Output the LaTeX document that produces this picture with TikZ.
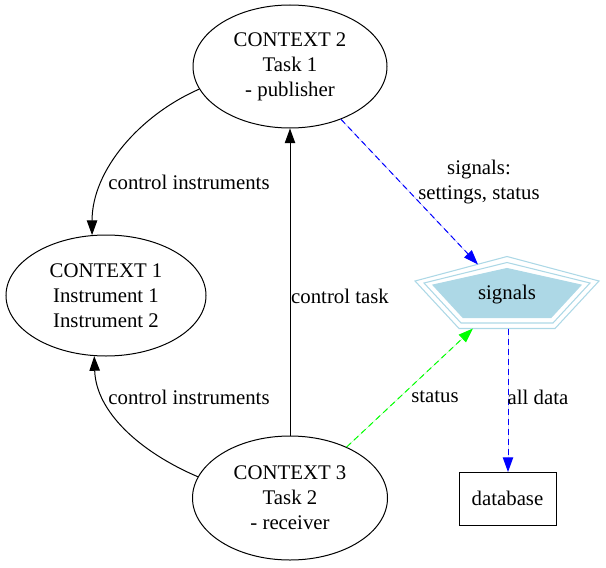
\documentclass[tikz,border=0pt]{standalone}
\usepackage{fontspec}
\setmainfont{Liberation Serif}
\usetikzlibrary{shapes.geometric,arrows.meta}
\definecolor{gvblue}{RGB}{0,0,255}
\definecolor{gvgreen}{RGB}{0,255,0}
\definecolor{gvlightblue}{RGB}{173,216,230}
\tikzset{
  ctx/.style={draw, ellipse, line width=0.75pt, inner sep=0pt, align=center},
  lbl/.style={align=center, inner sep=0pt},
  arr/.style={line width=0.75pt, -{Triangle[length=11pt,width=7.8pt]}},
  bluearr/.style={arr, draw=gvblue, fill=gvblue, dash pattern=on 4.5pt off 3pt},
  greenarr/.style={arr, draw=gvgreen, fill=gvgreen, dash pattern=on 4.5pt off 3pt},
  pent/.style={draw=gvlightblue, line width=0.8pt},
}
\begin{document}
\begin{tikzpicture}[x=0.75pt,y=-0.75pt, font=\fontsize{15.6}{18.8}\selectfont]
\useasboundingbox (0,0) rectangle (606,567);
% nodes
\node[ctx, minimum width=145.5pt, minimum height=92.25pt] (c2) at (290,66.5) {CONTEXT 2\\Task 1\\- publisher};
\node[ctx, minimum width=150pt, minimum height=90.75pt] (c1) at (106,295.5) {CONTEXT 1\\Instrument 1\\Instrument 2};
\node[ctx, minimum width=146.25pt, minimum height=93pt] (c3) at (290,498) {CONTEXT 3\\Task 2\\- receiver};
\node[draw, line width=0.75pt, minimum width=72.75pt, minimum height=39.75pt, inner sep=0pt] (db) at (507.5,498.5) {database};
% pentagon (signals)
\draw[pent] (507,256.5) -- (599,281) -- (555,328.5) -- (459,328.5) -- (415,281) -- cycle;
\draw[pent] (507,262.5) -- (590,283) -- (553,323) -- (461,323) -- (424,283) -- cycle;
\draw[pent, fill=gvlightblue] (507,268.5) -- (581,285) -- (551,317.5) -- (463,317.5) -- (433,285) -- cycle;
\node[lbl] (sig) at (507,295) {signals};
\coordinate (sigA) at (478,264.5);
\coordinate (sigB) at (473,328.5);
\coordinate (sigC) at (508,328.5);
\coordinate (dbtop) at (508,472);
% edges
\draw[arr] (c2.194) .. controls (140,115) and (92,170) .. (c1.103);
\draw[arr] (c3.167) .. controls (140,452) and (96,412) .. (c1.259);
\draw[arr] (c3.north) -- (c2.south);
\draw[bluearr] (c2.314) -- (sigA);
\draw[greenarr] (c3.42) -- (sigB);
\draw[bluearr] (sigC) -- (dbtop);
% labels
\node[lbl] (l1) at (189,182) {control instruments};
\node[lbl] (l2) at (189,397) {control instruments};
\node[lbl] (l3) at (340,296) {control task};
\node[lbl] (l4) at (479,182) {signals:\\settings, status};
\node[lbl] (l5) at (435,397) {status};
\node[lbl] (l6) at (538,397) {all data};
\end{tikzpicture}
\end{document}
